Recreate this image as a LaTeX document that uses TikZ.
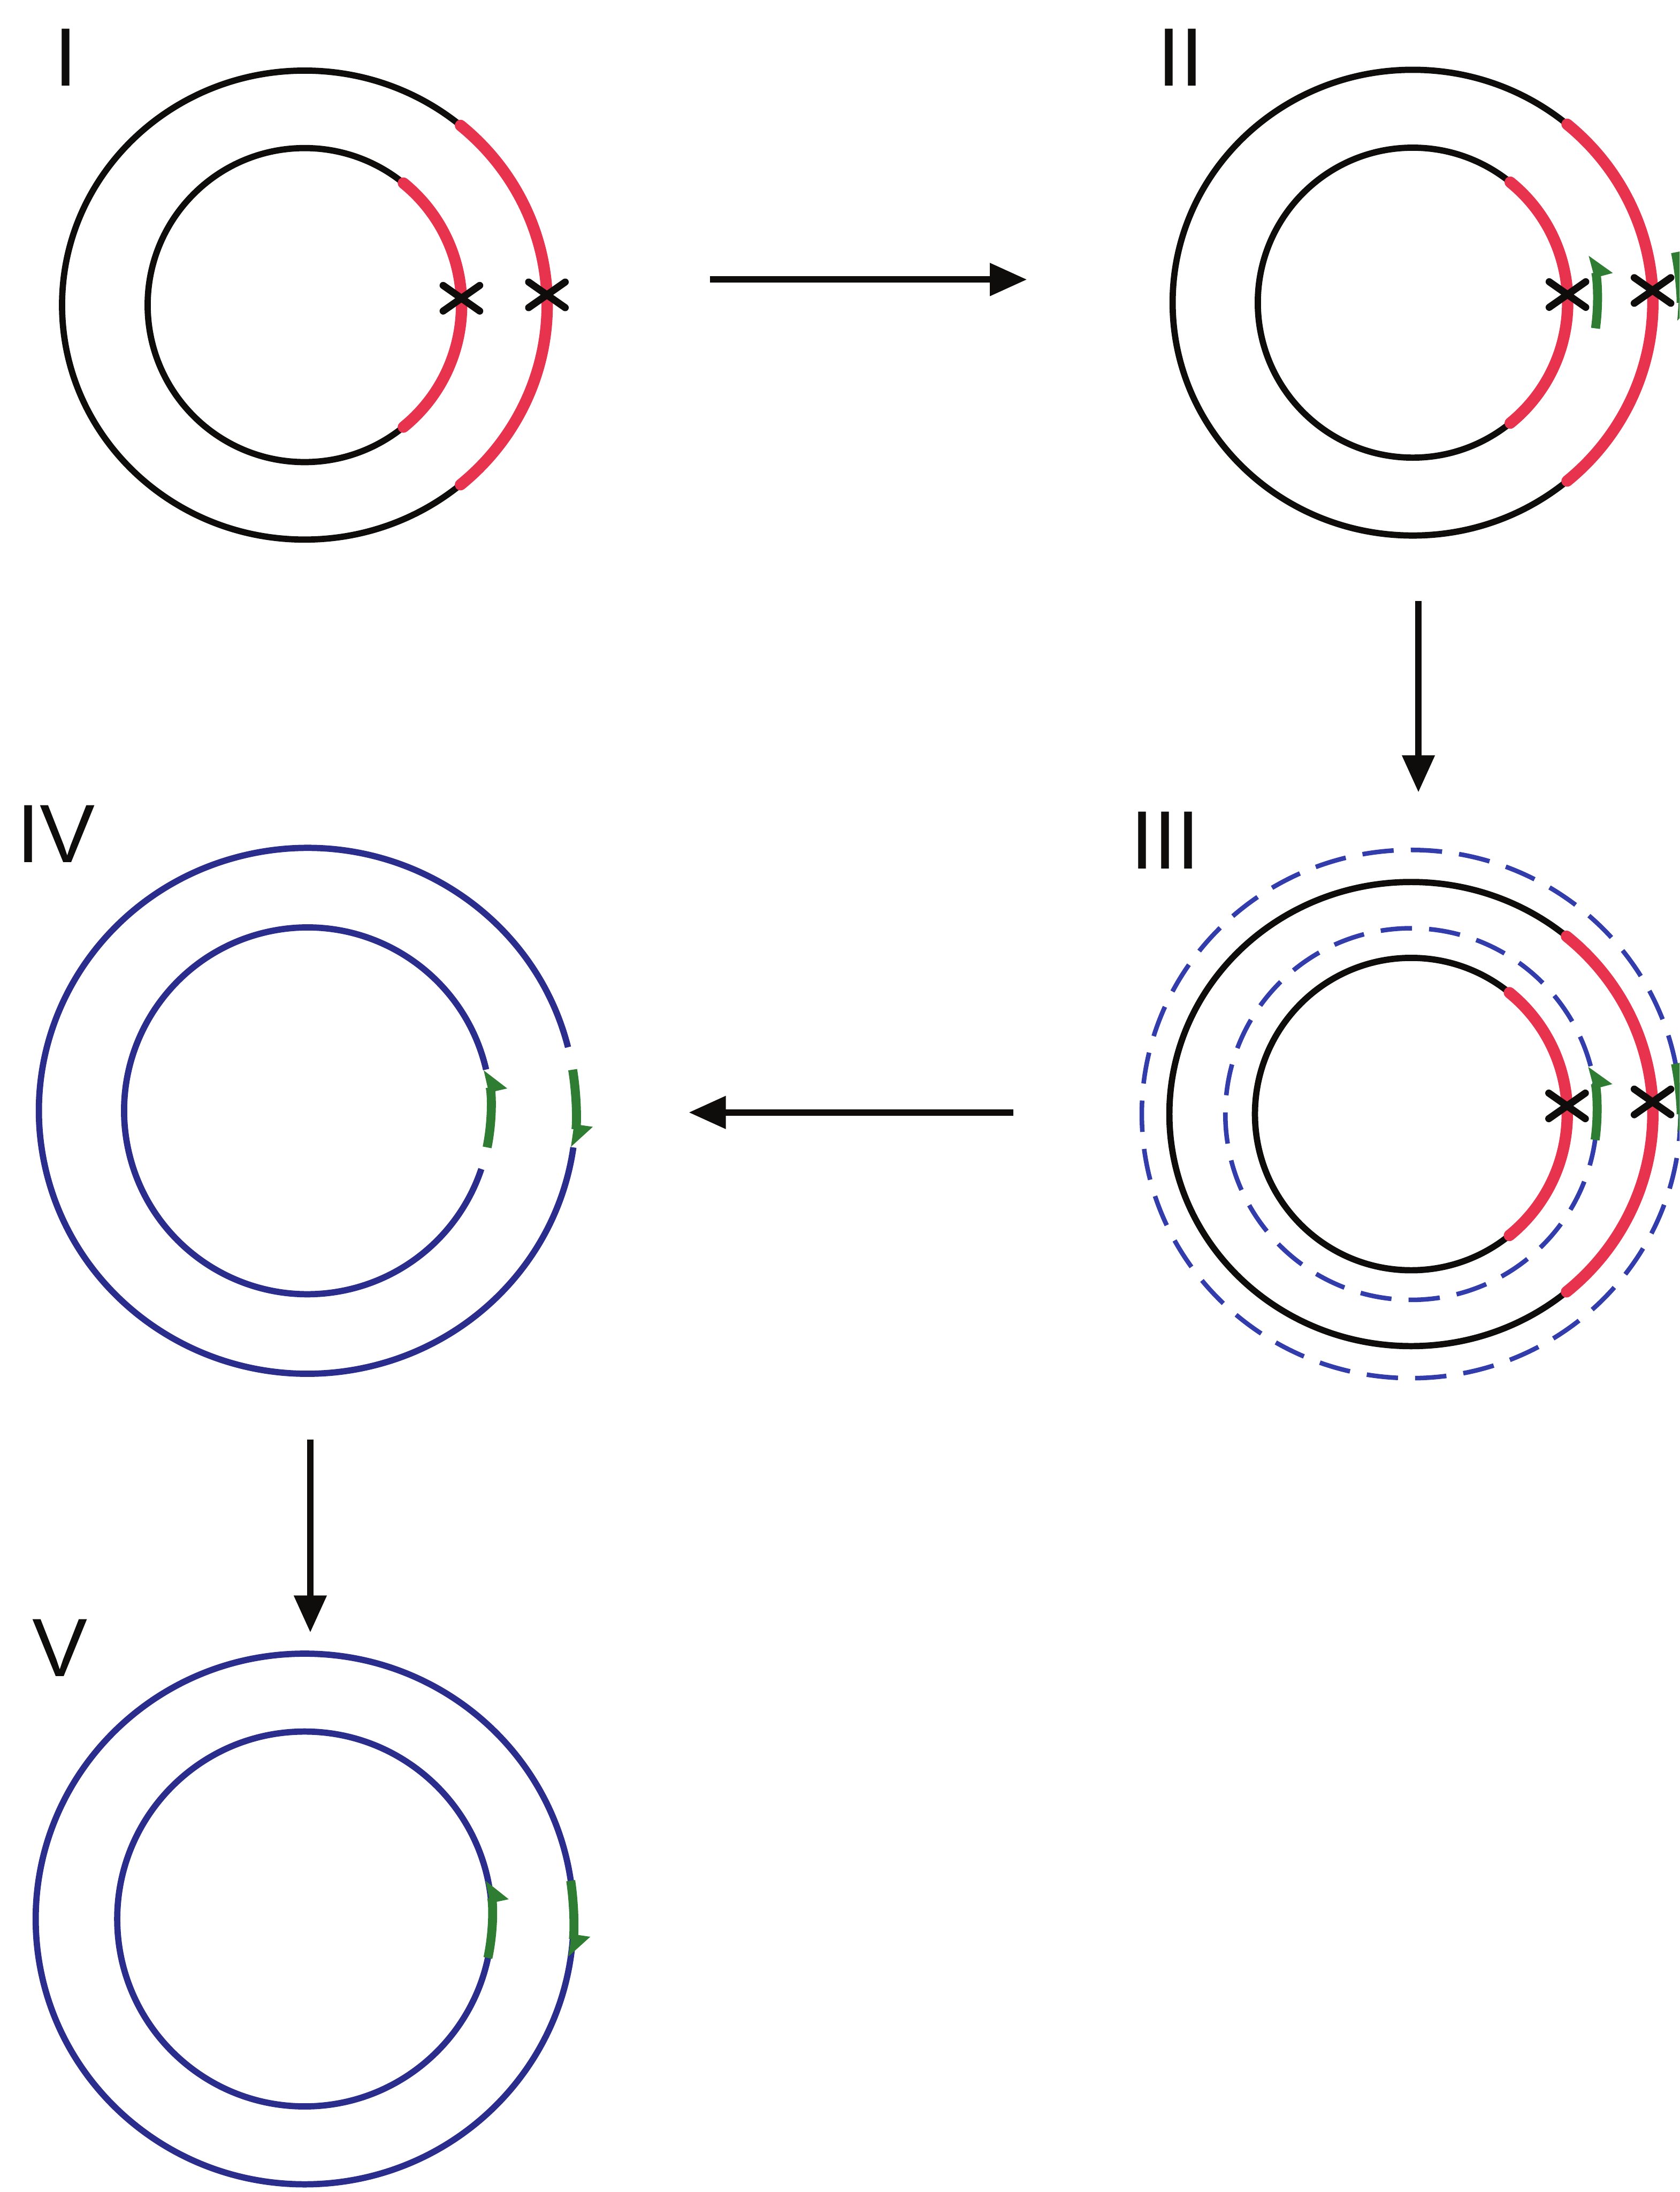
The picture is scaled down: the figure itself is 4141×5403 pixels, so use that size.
\documentclass[tikz,border=0pt]{standalone}
\usepackage{fontspec}
\setmainfont{Liberation Sans}
\usetikzlibrary{arrows.meta}
\definecolor{cred}{RGB}{232,51,78}
\definecolor{cgreen}{RGB}{46,125,50}
\definecolor{cblue}{RGB}{43,45,140}
\definecolor{cdash}{RGB}{50,60,170}
\definecolor{cblack}{RGB}{15,12,12}
\begin{document}
\begin{tikzpicture}[x=0.01cm,y=0.01cm,
  blk/.style={draw=cblack, line width=4.4pt},
  redarc/.style={draw=cred, line width=8pt, line cap=round},
  xmark/.style={draw=cblack, line width=5pt, line cap=round},
  bl/.style={draw=cblue, line width=4.4pt},
  bldash/.style={draw=cdash, line width=3.2pt, dash pattern=on 22pt off 12pt},
  grn/.style={draw=cgreen, line width=6.3pt},
  harp/.style={-{Triangle[harpoon, length=14pt, width=22pt]}},
  harpsw/.style={-{Triangle[harpoon, swap, length=14pt, width=22pt]}},
  flow/.style={draw=cblack, line width=4.6pt, -{Triangle[length=26pt,width=22pt]}},
  lbl/.style={font=\fontsize{58}{58}\selectfont, inner sep=0pt, text=cblack}
]
\useasboundingbox (0,0) rectangle (4141,-5403);
\fill[white] (0,0) rectangle (4141,-5403);
\clip (0,0) rectangle (4141,-5403);

% ---------- Panel I ----------
\coordinate (c1) at (751,-752);
\draw[blk] (c1) ellipse[x radius=598, y radius=578];
\draw[blk] (c1) circle[radius=387];
\draw[redarc] ([shift={(-50:598 and 578)}]c1) arc[start angle=-50, end angle=50, x radius=598, y radius=578];
\draw[redarc] ([shift={(-51:387)}]c1) arc[start angle=-51, end angle=51, radius=387];
\coordinate (x1i) at ([shift={(2.5:387)}]c1);
\coordinate (x1o) at ([shift={(2.5:598 and 578)}]c1);
\draw[xmark] (x1i) ++(145:55) -- ++(-35:110) (x1i) ++(35:55) -- ++(-145:110);
\draw[xmark] (x1o) ++(145:55) -- ++(-35:110) (x1o) ++(35:55) -- ++(-145:110);
\node[lbl] (l1) at (162,-141) {I};

% ---------- Panel II ----------
\coordinate (c2) at (3483,-746);
\draw[blk] (c2) ellipse[x radius=592, y radius=574];
\draw[blk] (c2) circle[radius=382];
\draw[redarc] ([shift={(-50:592 and 574)}]c2) arc[start angle=-50, end angle=50, x radius=592, y radius=574];
\draw[redarc] ([shift={(-51:382)}]c2) arc[start angle=-51, end angle=51, radius=382];
\coordinate (x2i) at ([shift={(3:382)}]c2);
\coordinate (x2o) at ([shift={(3:592 and 574)}]c2);
\draw[xmark] (x2i) ++(145:55) -- ++(-35:110) (x2i) ++(35:55) -- ++(-145:110);
\draw[xmark] (x2o) ++(145:55) -- ++(-35:110) (x2o) ++(35:55) -- ++(-145:110);
\draw[grn, harpsw] ([shift={(-8:455)}]c2) arc[start angle=-8, end angle=15, radius=455];
\draw[grn, harp] ([shift={(11:660 and 650)}]c2) arc[start angle=11, end angle=-4, x radius=660, y radius=650];
\node[lbl] (l2) at (2911,-141) {II};

% ---------- Panel III ----------
\coordinate (c3) at (3479,-2746);
\draw[bldash] (c3) ellipse[x radius=664, y radius=651];
\draw[bldash] (c3) circle[radius=458];
\draw[blk] (c3) ellipse[x radius=596, y radius=572];
\draw[blk] (c3) circle[radius=385];
\draw[redarc] ([shift={(-50:596 and 572)}]c3) arc[start angle=-50, end angle=50, x radius=596, y radius=572];
\draw[redarc] ([shift={(-51:385)}]c3) arc[start angle=-51, end angle=51, radius=385];
\coordinate (x3i) at ([shift={(3:385)}]c3);
\coordinate (x3o) at ([shift={(3:596 and 572)}]c3);
\draw[xmark] (x3i) ++(145:55) -- ++(-35:110) (x3i) ++(35:55) -- ++(-145:110);
\draw[xmark] (x3o) ++(145:55) -- ++(-35:110) (x3o) ++(35:55) -- ++(-145:110);
\draw[grn, harpsw] ([shift={(-8:458)}]c3) arc[start angle=-8, end angle=15, radius=458];
\draw[grn, harp] ([shift={(11:664 and 651)}]c3) arc[start angle=11, end angle=-4, x radius=664, y radius=651];
\node[lbl] (l3) at (2873,-2072) {III};

% ---------- Panel IV ----------
\coordinate (c4) at (758,-2738);
\draw[bl] ([shift={(13:452)}]c4) arc[start angle=13, end angle=341.5, radius=452];
\draw[bl] ([shift={(14:662 and 648)}]c4) arc[start angle=14, end angle=352, x radius=662, y radius=648];
\draw[grn, harpsw] ([shift={(-11.5:452)}]c4) arc[start angle=-11.5, end angle=13, radius=452];
\draw[grn, harp] ([shift={(9:662 and 648)}]c4) arc[start angle=9, end angle=-8, x radius=662, y radius=648];
\node[lbl] (l4) at (138,-2056) {IV};

% ---------- Panel V ----------
\coordinate (c5) at (751,-4730);
\draw[bl] (c5) ellipse[x radius=663, y radius=654];
\draw[bl] (c5) circle[radius=462];
\draw[grn, harpsw] ([shift={(-12:462)}]c5) arc[start angle=-12, end angle=12, radius=462];
\draw[grn, harp] ([shift={(8.3:663 and 654)}]c5) arc[start angle=8.3, end angle=-8.3, x radius=663, y radius=654];
\node[lbl] (l5) at (148,-4062) {V};

% ---------- Flow arrows ----------
\coordinate (a1s) at (1750,-689);  \coordinate (a1e) at (2532,-689);
\coordinate (a2s) at (3497,-1481); \coordinate (a2e) at (3497,-1953);
\coordinate (a3s) at (2498,-2742); \coordinate (a3e) at (1698,-2742);
\coordinate (a4s) at (765,-3548);  \coordinate (a4e) at (765,-4024);
\draw[flow] (a1s) -- (a1e);
\draw[flow] (a2s) -- (a2e);
\draw[flow] (a3s) -- (a3e);
\draw[flow] (a4s) -- (a4e);
\end{tikzpicture}
\end{document}
